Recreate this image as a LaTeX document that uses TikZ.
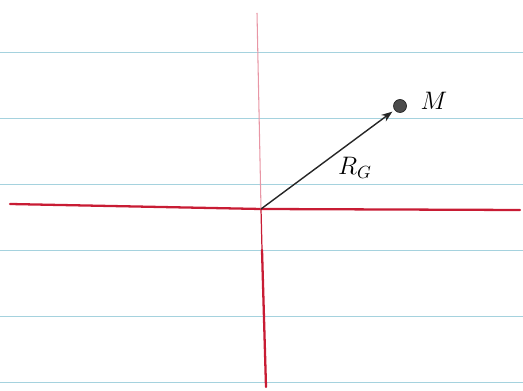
\documentclass[tikz,border=0pt]{standalone}
\usepackage{tikz}
\usetikzlibrary{arrows.meta,positioning}

\definecolor{ruleblue}{RGB}{165,210,222}
\definecolor{penred}{RGB}{200,28,52}
\definecolor{pink}{RGB}{232,150,165}

\begin{document}
\begin{tikzpicture}[
  >={Stealth[length=2.2mm,width=1.6mm]},
  font=\Large,
  rule/.style={draw=ruleblue, line width=0.5pt},
  axis/.style={draw=penred, line width=1.3pt, line cap=round},
  vec/.style={->, draw=black!85, line width=0.8pt, shorten >=1.5pt},
  pt/.style={circle, fill=black!70, draw=black!85, inner sep=0pt, minimum size=2.6mm}
]
\useasboundingbox (0,0) rectangle (10.46,7.8);
% --- lined paper ---
\foreach \y in {6.76,5.44,4.12,2.8,1.48,0.16}
  \draw[rule] (0,\y) -- (10.46,\y);
% --- axes ---
\coordinate (O) at (5.22,3.62);
\coordinate (xl) at (0.2,3.72);
\coordinate (xr) at (10.4,3.6);
\coordinate (yt) at (5.14,7.54);
\coordinate (ym) at (5.24,2.8);
\coordinate (yb) at (5.32,0.06);
\draw[axis] (xl) -- (O) -- (xr);
\draw[draw=pink, line width=0.6pt] (yt) -- (O);
\draw[draw=penred, line width=0.7pt] (O) -- (ym);
\draw[axis] (ym) -- (yb);
% --- point and vector ---
\node[pt] (M) at (8.0,5.68) {};
\node[right=1.5mm of M, yshift=1mm] (lblM) {$M$};
\draw[vec] (O) -- (M);
\node (lblR) at (7.1,4.44) {$R_{G}$};
\end{tikzpicture}
\end{document}
